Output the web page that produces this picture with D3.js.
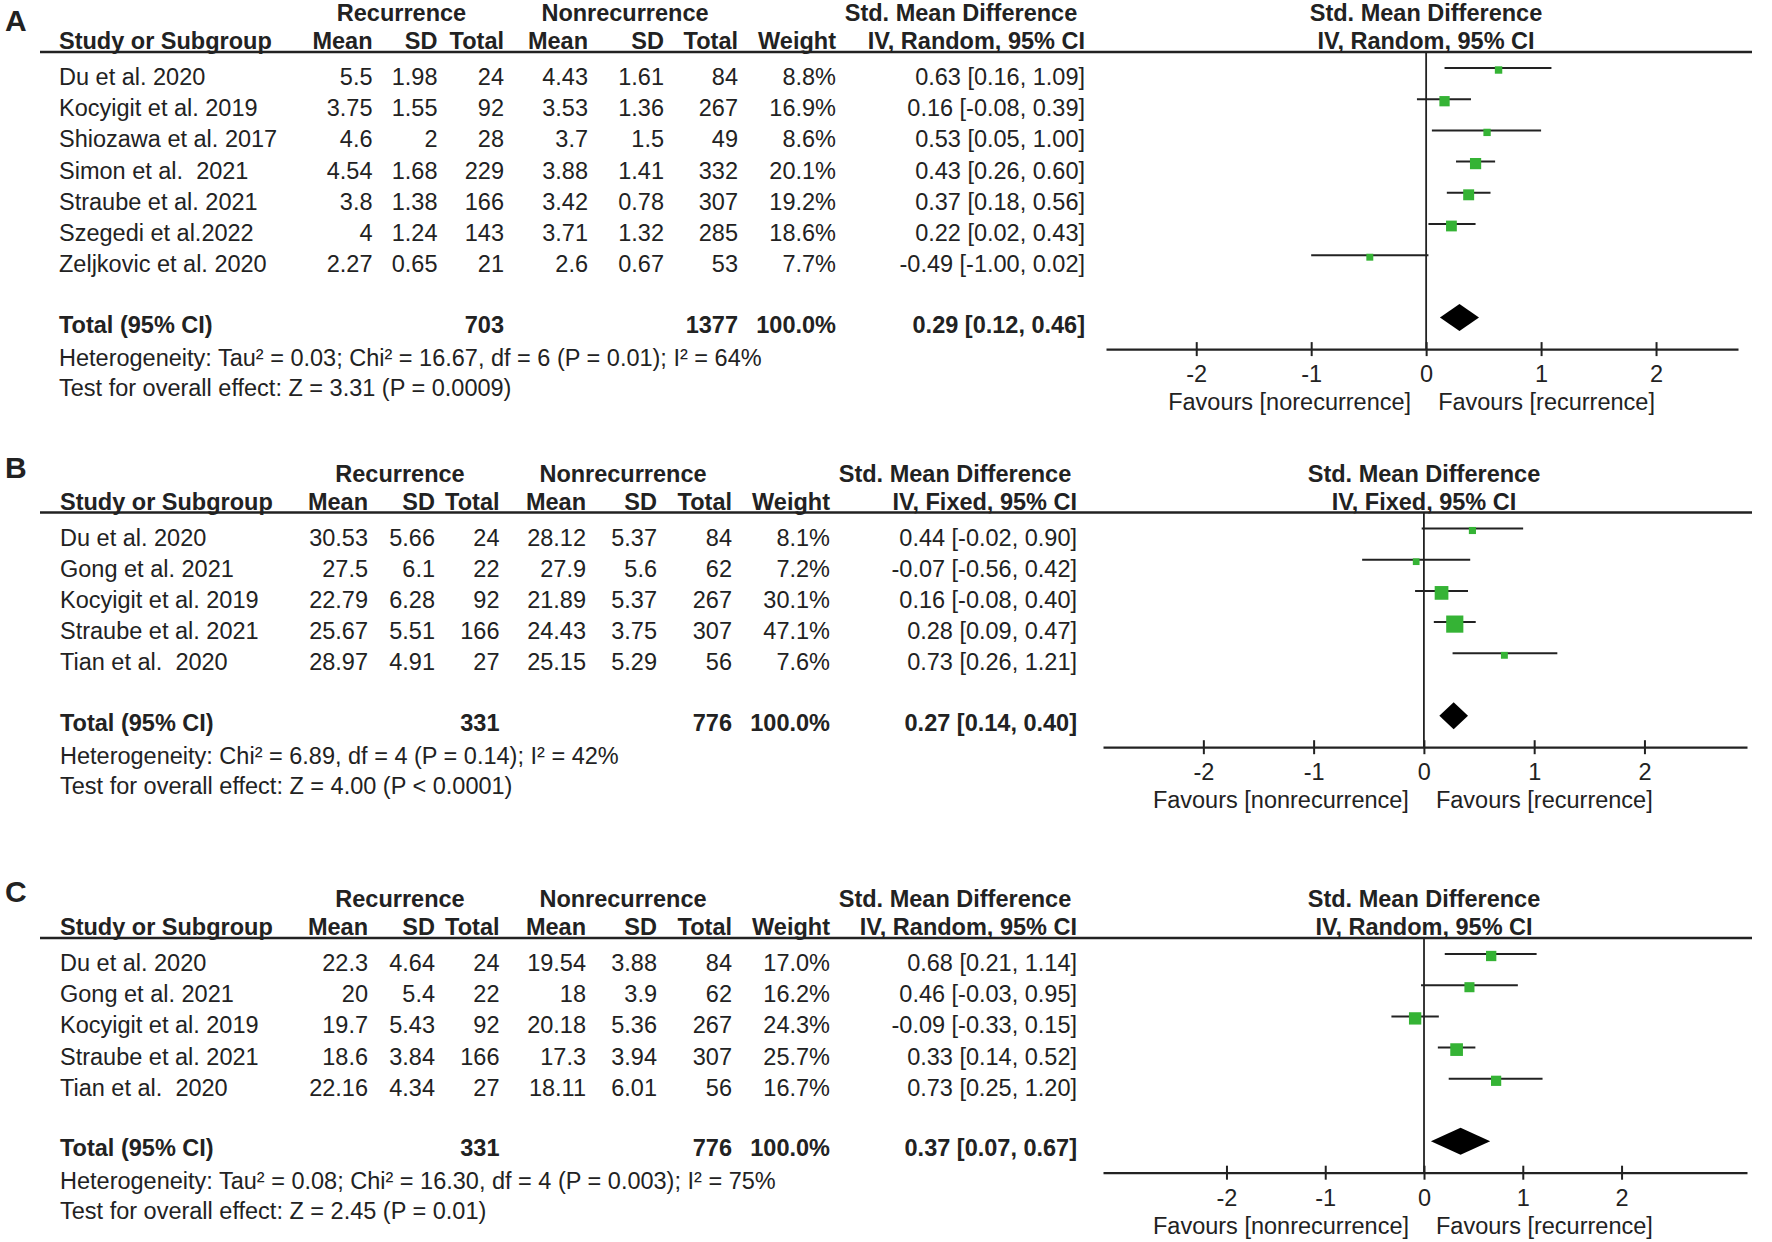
<!DOCTYPE html>
<html>
<head>
<meta charset="utf-8">
<script src="https://cdn.jsdelivr.net/npm/d3@7"></script>
<style>
body { margin: 0; background: #fff; }
svg text { font-family: "Liberation Sans", Arial, sans-serif; font-size: 23.5px; fill: #222; white-space: pre; }
</style>
</head>
<body>
<div id="chart"></div>
<script>
var width = 1772, height = 1242;

// ---- panel A : IV, Random ----
var studiesA = ["Du et al. 2020", "Kocyigit et al. 2019", "Shiozawa et al. 2017", "Simon et al.  2021",
                "Straube et al. 2021", "Szegedi et al.2022", "Zeljkovic et al. 2020"];
var recMeanA = [5.5, 3.75, 4.6, 4.54, 3.8, 4, 2.27];
var recSdA   = [1.98, 1.55, 2, 1.68, 1.38, 1.24, 0.65];
var recNA    = [24, 92, 28, 229, 166, 143, 21];
var nonMeanA = [4.43, 3.53, 3.7, 3.88, 3.42, 3.71, 2.6];
var nonSdA   = [1.61, 1.36, 1.5, 1.41, 0.78, 1.32, 0.67];
var nonNA    = [84, 267, 49, 332, 307, 285, 53];
var weightA  = [8.8, 16.9, 8.6, 20.1, 19.2, 18.6, 7.7];
var smdA     = [0.63, 0.16, 0.53, 0.43, 0.37, 0.22, -0.49];
var loA      = [0.16, -0.08, 0.05, 0.26, 0.18, 0.02, -1.00];
var hiA      = [1.09, 0.39, 1.00, 0.60, 0.56, 0.43, 0.02];
var totalA   = [703, 1377, 100.0, 0.29, 0.12, 0.46]; // rec N, nonrec N, weight, smd, lo, hi
var hetA  = "Heterogeneity: Tau² = 0.03; Chi² = 16.67, df = 6 (P = 0.01); I² = 64%";
var testA = "Test for overall effect: Z = 3.31 (P = 0.0009)";

// ---- panel B : IV, Fixed ----
var studiesB = ["Du et al. 2020", "Gong et al. 2021", "Kocyigit et al. 2019", "Straube et al. 2021", "Tian et al.  2020"];
var recMeanB = [30.53, 27.5, 22.79, 25.67, 28.97];
var recSdB   = [5.66, 6.1, 6.28, 5.51, 4.91];
var recNB    = [24, 22, 92, 166, 27];
var nonMeanB = [28.12, 27.9, 21.89, 24.43, 25.15];
var nonSdB   = [5.37, 5.6, 5.37, 3.75, 5.29];
var nonNB    = [84, 62, 267, 307, 56];
var weightB  = [8.1, 7.2, 30.1, 47.1, 7.6];
var smdB     = [0.44, -0.07, 0.16, 0.28, 0.73];
var loB      = [-0.02, -0.56, -0.08, 0.09, 0.26];
var hiB      = [0.90, 0.42, 0.40, 0.47, 1.21];
var totalB   = [331, 776, 100.0, 0.27, 0.14, 0.40];
var hetB  = "Heterogeneity: Chi² = 6.89, df = 4 (P = 0.14); I² = 42%";
var testB = "Test for overall effect: Z = 4.00 (P < 0.0001)";

// ---- panel C : IV, Random ----
var studiesC = ["Du et al. 2020", "Gong et al. 2021", "Kocyigit et al. 2019", "Straube et al. 2021", "Tian et al.  2020"];
var recMeanC = [22.3, 20, 19.7, 18.6, 22.16];
var recSdC   = [4.64, 5.4, 5.43, 3.84, 4.34];
var recNC    = [24, 22, 92, 166, 27];
var nonMeanC = [19.54, 18, 20.18, 17.3, 18.11];
var nonSdC   = [3.88, 3.9, 5.36, 3.94, 6.01];
var nonNC    = [84, 62, 267, 307, 56];
var weightC  = [17.0, 16.2, 24.3, 25.7, 16.7];
var smdC     = [0.68, 0.46, -0.09, 0.33, 0.73];
var loC      = [0.21, -0.03, -0.33, 0.14, 0.25];
var hiC      = [1.14, 0.95, 0.15, 0.52, 1.20];
var totalC   = [331, 776, 100.0, 0.37, 0.07, 0.67];
var hetC  = "Heterogeneity: Tau² = 0.08; Chi² = 16.30, df = 4 (P = 0.003); I² = 75%";
var testC = "Test for overall effect: Z = 2.45 (P = 0.01)";

var tickVals = [-2, -1, 0, 1, 2];
var green = "#35b335", ink = "#222";

// column layouts (right edges, group header centres)
var colsA = {study: 59, m1: 372.5, s1: 437.5, n1: 504, m2: 588, s2: 664, n2: 738, w: 836, ci: 1085, g1: 401.5, g2: 625, g3: 961};
var colsB = {study: 60, m1: 368, s1: 435, n1: 499.5, m2: 586, s2: 657, n2: 732, w: 830, ci: 1077, g1: 400, g2: 623, g3: 955};

var panels = [
  {letter: "A", letterY: 31, hy: 52, model: "IV, Random, 95% CI", cols: colsA, domain: [-2.785, 2.713], range: [1106, 1738],
   studies: studiesA, recMean: recMeanA, recSd: recSdA, recN: recNA, nonMean: nonMeanA, nonSd: nonSdA, nonN: nonNA,
   weight: weightA, smd: smdA, lo: loA, hi: hiA, total: totalA, het: hetA, test: testA, fav: "Favours [norecurrence]", cx: 1426},
  {letter: "B", letterY: 478, hy: 512.5, model: "IV, Fixed, 95% CI", cols: colsB, domain: [-2.91, 2.93], range: [1103, 1747],
   studies: studiesB, recMean: recMeanB, recSd: recSdB, recN: recNB, nonMean: nonMeanB, nonSd: nonSdB, nonN: nonNB,
   weight: weightB, smd: smdB, lo: loB, hi: hiB, total: totalB, het: hetB, test: testB, fav: "Favours [nonrecurrence]", cx: 1424},
  {letter: "C", letterY: 902, hy: 938, model: "IV, Random, 95% CI", cols: colsB, domain: [-3.25, 3.27], range: [1103, 1747],
   studies: studiesC, recMean: recMeanC, recSd: recSdC, recN: recNC, nonMean: nonMeanC, nonSd: nonSdC, nonN: nonNC,
   weight: weightC, smd: smdC, lo: loC, hi: hiC, total: totalC, het: hetC, test: testC, fav: "Favours [nonrecurrence]", cx: 1424}
];

var svg = d3.select("#chart").append("svg")
  .attr("width", width).attr("height", height)
  .style("background", "#fff");

function txt(g, x, y, s, anchor, bold) {
  return g.append("text").attr("x", x).attr("y", y)
    .attr("text-anchor", anchor || "start")
    .style("font-weight", bold ? "bold" : "normal")
    .text(s);
}

function ciText(e, l, h) {
  return e.toFixed(2) + " [" + l.toFixed(2) + ", " + h.toFixed(2) + "]";
}

function drawPanel(p) {
  var g = svg.append("g");
  var c = p.cols, hy = p.hy, n = p.studies.length;
  // row positions (line centre of each study row)
  var rowY = d3.scaleLinear().domain([0, 1]).range([hy + 16, hy + 16 + 31.2]);
  var x = d3.scaleLinear().domain(p.domain).range(p.range);
  var side = d3.scaleSqrt().domain([0, 100]).range([0, 25]);

  txt(g, 5, p.letterY, p.letter, "start", true).style("font-size", "30px");

  // group headers
  var gy = hy - 31;
  txt(g, c.g1, gy, "Recurrence", "middle", true);
  txt(g, c.g2, gy, "Nonrecurrence", "middle", true);
  txt(g, c.g3, gy, "Std. Mean Difference", "middle", true);
  txt(g, p.cx, gy, "Std. Mean Difference", "middle", true);

  // column headers
  var cy = hy - 3;
  txt(g, c.study, cy, "Study or Subgroup", "start", true);
  [["m1", "Mean"], ["s1", "SD"], ["n1", "Total"], ["m2", "Mean"], ["s2", "SD"], ["n2", "Total"], ["w", "Weight"], ["ci", p.model]]
    .forEach(function(h) { txt(g, c[h[0]], cy, h[1], "end", true); });
  txt(g, p.cx, cy, p.model, "middle", true);

  g.append("line").attr("x1", 40).attr("x2", 1752).attr("y1", hy).attr("y2", hy)
    .attr("stroke", ink).attr("stroke-width", 2.5);

  // study rows
  for (var i = 0; i < n; i++) {
    var by = rowY(i) + 17;
    txt(g, c.study, by, p.studies[i]);
    txt(g, c.m1, by, String(p.recMean[i]), "end");
    txt(g, c.s1, by, String(p.recSd[i]), "end");
    txt(g, c.n1, by, String(p.recN[i]), "end");
    txt(g, c.m2, by, String(p.nonMean[i]), "end");
    txt(g, c.s2, by, String(p.nonSd[i]), "end");
    txt(g, c.n2, by, String(p.nonN[i]), "end");
    txt(g, c.w, by, p.weight[i].toFixed(1) + "%", "end");
    txt(g, c.ci, by, ciText(p.smd[i], p.lo[i], p.hi[i]), "end");
  }

  // total row
  var ty = rowY(n + 1), tb = ty + 15, t = p.total;
  txt(g, c.study, tb, "Total (95% CI)", "start", true);
  txt(g, c.n1, tb, String(t[0]), "end", true);
  txt(g, c.n2, tb, String(t[1]), "end", true);
  txt(g, c.w, tb, t[2].toFixed(1) + "%", "end", true);
  txt(g, c.ci, tb, ciText(t[3], t[4], t[5]), "end", true);
  txt(g, c.study, ty + 48, p.het);
  txt(g, c.study, ty + 78, p.test);

  // forest plot
  var ay = ty + 31.5;
  g.append("line").attr("x1", x(0)).attr("x2", x(0)).attr("y1", hy).attr("y2", ay)
    .attr("stroke", ink).attr("stroke-width", 1.8);

  var rows = d3.range(n);
  g.selectAll(".ci").data(rows).enter().append("line")
    .attr("x1", function(d) { return x(p.lo[d]); })
    .attr("x2", function(d) { return x(p.hi[d]); })
    .attr("y1", function(d) { return rowY(d); })
    .attr("y2", function(d) { return rowY(d); })
    .attr("stroke", ink).attr("stroke-width", 2);
  g.selectAll(".sq").data(rows).enter().append("rect")
    .attr("x", function(d) { return x(p.smd[d]) - side(p.weight[d]) / 2; })
    .attr("y", function(d) { return rowY(d) + 2 - side(p.weight[d]) / 2; })
    .attr("width", function(d) { return side(p.weight[d]); })
    .attr("height", function(d) { return side(p.weight[d]); })
    .attr("fill", green);

  g.append("path")
    .attr("d", "M" + x(t[4]) + "," + ty + "L" + x(t[3]) + "," + (ty - 13.5) +
               "L" + x(t[5]) + "," + ty + "L" + x(t[3]) + "," + (ty + 13.5) + "Z")
    .attr("fill", "#000");

  var axis = d3.axisBottom(x).tickValues(tickVals).tickSizeInner(7).tickSizeOuter(0).tickPadding(10)
    .tickFormat(function(d) { return String(d); });
  var ag = g.append("g").attr("transform", "translate(0," + ay + ")").call(axis);
  ag.select(".domain").attr("stroke", ink).attr("stroke-width", 2.2);
  ag.selectAll(".tick line").attr("y1", -7).attr("y2", 7).attr("stroke", ink).attr("stroke-width", 2);
  ag.selectAll(".tick text").attr("font-family", null).attr("font-size", null)
    .style("font-size", "23.5px").attr("dy", null).attr("y", 33);

  txt(g, x(0) - 15, ay + 61, p.fav, "end");
  txt(g, x(0) + 12, ay + 61, "Favours [recurrence]", "start");
}

panels.forEach(drawPanel);
</script>
</body>
</html>
